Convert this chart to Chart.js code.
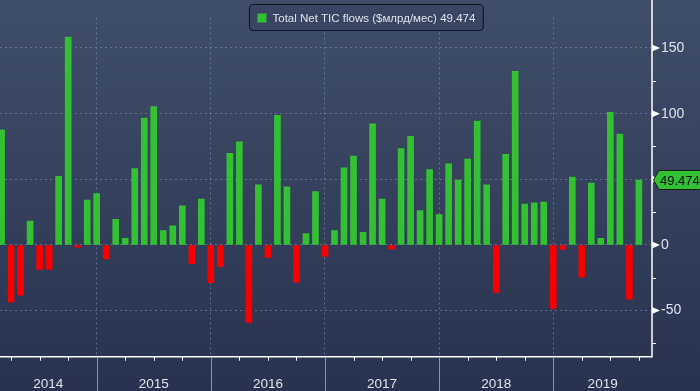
<!DOCTYPE html>
<html>
<head>
<meta charset="utf-8">
<script src="https://cdn.jsdelivr.net/npm/chart.js@4/dist/chart.umd.min.js"></script>
<style>
html, body { margin: 0; padding: 0; background: #2c3753; }
#wrap { width: 700px; height: 391px; }
</style>
</head>
<body>
<div id="wrap"><canvas id="ticChart" width="700" height="391"></canvas></div>
<script>
// monthly values, Feb 2014 .. Sep 2019
let years = [2014, 2015, 2016, 2017, 2018, 2019];
let firstMonth = 2;
let flows = [
    87.6, -43.3, -38.3, 18.2, -18.6, -18.6, 52.3, 158.4, -1.7, 34.1, 39.2,
    -10.7, 19.6, 5.1, 58.1, 96.6, 105.3, 10.9, 14.5, 29.8, -14.3, 34.9, -28.8,
    -16.5, 69.7, 78.5, -59.0, 45.8, -9.4, 98.8, 44.3, -28.3, 8.7, 40.7, -8.7,
    10.9, 58.7, 67.6, 9.7, 92.3, 34.9, -3.1, 73.4, 82.8, 26.2, 57.4, 23.2,
    61.7, 49.4, 65.4, 94.4, 45.8, -36.1, 69.0, 132.2, 31.2, 32.0, 32.7, -48.4,
    -3.4, 51.6, -24.5, 47.2, 5.1, 101.0, 84.5, -41.2, 49.474
];
let yTicks = [-75, -50, -25, 0, 25, 50, 75, 100, 125, 150];
let seriesName = "Total Net TIC flows ($млрд/мес)";
let lastValue = 49.474;

let green = "#33c133";
let red = "#f80000";
let gridColor = "rgba(125,145,175,0.6)";
let textColor = "#dfe3ea";
let font = "13.5px 'Liberation Sans', Arial, sans-serif";

let points = flows.map((v, i) => ({ x: firstMonth + i, y: v }));
let colors = flows.map(v => v >= 0 ? green : red);

let background = {
    id: "background",
    beforeDraw(chart) {
        let ctx = chart.ctx;
        let g = ctx.createLinearGradient(0, 0, 0, chart.height);
        g.addColorStop(0, "#404d69");
        g.addColorStop(1, "#29334f");
        ctx.save();
        ctx.fillStyle = g;
        ctx.fillRect(0, 0, chart.width, chart.height);
        ctx.restore();
    }
};

let decorations = {
    id: "decorations",
    afterDraw(chart) {
        let ctx = chart.ctx;
        let area = chart.chartArea;
        let xs = chart.scales.x;
        let ys = chart.scales.y;
        ctx.save();

        // axis lines
        ctx.strokeStyle = "#ffffff";
        ctx.lineWidth = 1.5;
        ctx.beginPath();
        ctx.moveTo(area.left, area.bottom);
        ctx.lineTo(area.right, area.bottom);
        ctx.moveTo(area.right, 0);
        ctx.lineTo(area.right, area.bottom + 0.75);
        ctx.stroke();

        // quarter ticks and year separators
        ctx.lineWidth = 1;
        for (let t = 3; t < xs.max; t += 3) {
            if (t < xs.min) continue;
            let px = Math.round(xs.getPixelForValue(t)) + 0.5;
            ctx.beginPath();
            if (t % 12 === 0) {
                ctx.strokeStyle = "#8c95a8";
                ctx.moveTo(px, area.bottom + 1);
                ctx.lineTo(px, chart.height);
            } else {
                ctx.strokeStyle = "#ffffff";
                ctx.moveTo(px, area.bottom);
                ctx.lineTo(px, area.bottom + 4);
            }
            ctx.stroke();
        }

        // year labels, centred in the visible part of each year
        ctx.fillStyle = textColor;
        ctx.font = font;
        ctx.textAlign = "center";
        ctx.textBaseline = "alphabetic";
        years.forEach((yr, i) => {
            let a = Math.max(area.left, xs.getPixelForValue(i * 12));
            let b = Math.min(area.right, xs.getPixelForValue((i + 1) * 12));
            ctx.fillText(String(yr), (a + b) / 2, 388);
        });

        // y tick marks
        ctx.fillStyle = "#ffffff";
        ctx.strokeStyle = "#ffffff";
        yTicks.forEach(v => {
            let py = ys.getPixelForValue(v);
            if (v % 50 === 0) {
                ctx.beginPath();
                ctx.moveTo(area.right, py - 3.5);
                ctx.lineTo(area.right + 8, py);
                ctx.lineTo(area.right, py + 3.5);
                ctx.closePath();
                ctx.fill();
            } else {
                ctx.beginPath();
                ctx.moveTo(area.right, Math.round(py) + 0.5);
                ctx.lineTo(area.right + 4, Math.round(py) + 0.5);
                ctx.stroke();
            }
        });

        // last value tag
        let vy = ys.getPixelForValue(lastValue);
        ctx.beginPath();
        ctx.moveTo(area.right + 1.5, vy);
        ctx.lineTo(area.right + 7, vy - 9.5);
        ctx.lineTo(chart.width + 2, vy - 9.5);
        ctx.lineTo(chart.width + 2, vy + 9.5);
        ctx.lineTo(area.right + 7, vy + 9.5);
        ctx.closePath();
        ctx.fillStyle = green;
        ctx.fill();
        ctx.strokeStyle = "#10200f";
        ctx.lineWidth = 1;
        ctx.stroke();
        ctx.fillStyle = "#0a0a0a";
        ctx.font = "13px 'Liberation Sans', Arial, sans-serif";
        ctx.textAlign = "left";
        ctx.textBaseline = "middle";
        ctx.fillText(String(lastValue), area.right + 8, vy + 1);

        // legend box
        ctx.font = "11.5px 'Liberation Sans', Arial, sans-serif";
        let label = seriesName + " " + lastValue;
        let w = ctx.measureText(label).width;
        let bx = 249.5, by = 4.5, bw = w + 31, bh = 26;
        ctx.beginPath();
        ctx.roundRect(bx, by, bw, bh, 4);
        ctx.fillStyle = "rgba(58,70,96,0.9)";
        ctx.fill();
        ctx.strokeStyle = "#121826";
        ctx.lineWidth = 1.2;
        ctx.stroke();
        ctx.fillStyle = green;
        ctx.fillRect(bx + 8, by + 9, 9, 9);
        ctx.fillStyle = textColor;
        ctx.textBaseline = "middle";
        ctx.fillText(label, bx + 23, by + bh / 2 + 1);

        ctx.restore();
    }
};

let chart = new Chart(document.getElementById("ticChart").getContext("2d"), {
    type: "bar",
    data: {
        datasets: [{
            label: seriesName,
            data: points,
            backgroundColor: colors,
            borderWidth: 0,
            barThickness: 6
        }]
    },
    options: {
        responsive: false,
        animation: false,
        devicePixelRatio: 1,
        layout: { padding: 0 },
        plugins: {
            legend: { display: false },
            tooltip: { enabled: false }
        },
        scales: {
            x: {
                type: "linear",
                offset: false,
                min: 1.834,
                max: 70.38,
                afterBuildTicks: s => { s.ticks = [12, 24, 36, 48, 60].map(v => ({ value: v })); },
                afterFit: s => { s.height = 34.3; },
                ticks: { display: false },
                grid: { color: gridColor, drawTicks: false, lineWidth: 1, offset: false },
                border: { display: false, dash: [2, 3] }
            },
            y: {
                position: "right",
                min: -85.1,
                max: 173.3,
                afterBuildTicks: s => { s.ticks = yTicks.map(v => ({ value: v })); },
                afterFit: s => { s.width = 48; },
                ticks: {
                    color: textColor,
                    font: { family: "'Liberation Sans', Arial, sans-serif", size: 14 },
                    padding: 9,
                    callback: v => v % 50 === 0 ? String(v) : ""
                },
                grid: {
                    color: c => c.tick && c.tick.value % 50 === 0 ? gridColor : "transparent",
                    drawTicks: false,
                    lineWidth: 1
                },
                border: { display: false, dash: [2, 3] }
            }
        }
    },
    plugins: [background, decorations]
});
</script>
</body>
</html>
